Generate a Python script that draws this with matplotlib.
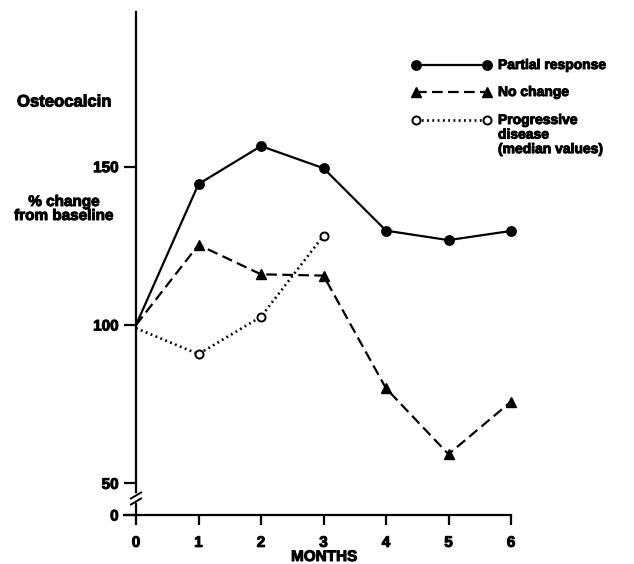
import matplotlib
matplotlib.use("Agg")
import matplotlib.pyplot as plt
from matplotlib.lines import Line2D
import matplotlib.patheffects as pe

# ---------------- data ----------------
months = [0, 1, 2, 3, 4, 5, 6]
partial_response = [100, 144.5, 156.5, 149.5, 129.8, 126.8, 129.7]
no_change = [100, 125.3, 116.0, 115.6, 80.0, 59.2, 75.8]
pd_months = [0, 1, 2, 3]
progressive_disease = [99, 90.8, 102.6, 128.2]
ytick_values = [40, 50, 100, 150]      # 40 is where the broken axis shows 0
ytick_labels = ["0", "50", "100", "150"]
xtick_labels = ["0", "1", "2", "3", "4", "5", "6"]

W, H = 634, 564
plt.rcParams['font.family'] = ['Liberation Sans', 'DejaVu Sans']
plt.rcParams['font.weight'] = 'bold'
heavy = [pe.withStroke(linewidth=0.7, foreground='black')]

fig = plt.figure(figsize=(W / 100, H / 100), dpi=100)
ax = fig.add_axes([0, 0, 1, 1])
ax.set_facecolor('none')

# pixel mapping helpers
X0, XS = 136, 62.5          # x pixel of month 0, px per month
Y100, YS = 325, 3.167       # y pixel of 100, px per unit

def fy(p):
    return 100 - (p - Y100) / YS

ax.set_xlim(-X0 / XS, (W - X0) / XS)
ax.set_ylim(fy(H), fy(0))

lw = 1.6
st_pr = dict(ls='-', marker='o', ms=6.8)
st_nc = dict(dashes=(4.8, 2.4), marker='^', ms=7.2)
st_pd = dict(dashes=(0.7, 1.3), marker='o', ms=5.8, mfc='white', mew=1.4)

ax.plot(months, partial_response, color='black', lw=lw, markevery=slice(1, None),
        zorder=3, **st_pr)
ax.plot(months, no_change, color='black', lw=lw, markevery=slice(1, None),
        zorder=3, **st_nc)
ax.plot(pd_months, progressive_disease, color='black', lw=1.9, markevery=slice(1, None),
        zorder=3, **st_pd)

# spines
for s in ['top', 'right']:
    ax.spines[s].set_visible(False)
ax.spines['left'].set_position(('data', 0))
ax.spines['bottom'].set_position(('data', 40))
ax.spines['left'].set_bounds(40, fy(12))
ax.spines['bottom'].set_bounds(-12 / XS, 6)
ax.spines['left'].set_linewidth(1.6)
ax.spines['bottom'].set_linewidth(1.6)

ax.set_xticks(months)
ax.set_xticklabels(xtick_labels)
ax.set_yticks(ytick_values)
ax.set_yticklabels(ytick_labels)
ax.tick_params(axis='x', direction='out', length=7.5, width=1.6, pad=7.5, labelsize=11)
ax.tick_params(axis='y', direction='out', length=8.5, width=1.6, pad=4, labelsize=11)
for lbl in ax.get_xticklabels() + ax.get_yticklabels():
    lbl.set_path_effects(heavy)

# axis break marks
ax.plot([0, 0], [fy(496.5), fy(500.5)], color='white', lw=4, zorder=5, clip_on=False)
for pc in (495.5, 501.5):
    ax.plot([-5 / XS, 5 / XS], [fy(pc + 3), fy(pc - 3)], color='black', lw=1.4,
            zorder=6, clip_on=False)

def P(x, y):
    return (x / W, 1 - y / H)

# texts
fig.text(*P(17, 102), "Osteocalcin", fontsize=12, fontweight='bold', ha='left',
         va='center', path_effects=heavy)
fig.text(*P(64, 209), "% change\nfrom baseline", fontsize=11, fontweight='bold',
         ha='center', va='center', linespacing=1.0, path_effects=heavy)
fig.text(*P(324, 557), "MONTHS", fontsize=11, fontweight='bold', ha='center',
         va='center', path_effects=heavy)

# manual legend
leg_y = [65, 92, 120]
styles = [st_pr, st_nc, st_pd]
leg_lw = [lw, lw, 1.9]
labels = ["Partial response", "No change", "Progressive\ndisease\n(median values)"]
for yy, st, lab, l in zip(leg_y, styles, labels, leg_lw):
    (x1, y1), (x2, _) = P(416, yy), P(487, yy)
    fig.add_artist(Line2D([x1, x2], [y1, y1], color='black', lw=l,
                          transform=fig.transFigure, **st))
    fig.text(*P(498, yy - 7), lab, fontsize=10, fontweight='bold', ha='left', va='top',
             linespacing=1.05, path_effects=heavy)

fig.savefig("out.png", dpi=100)
